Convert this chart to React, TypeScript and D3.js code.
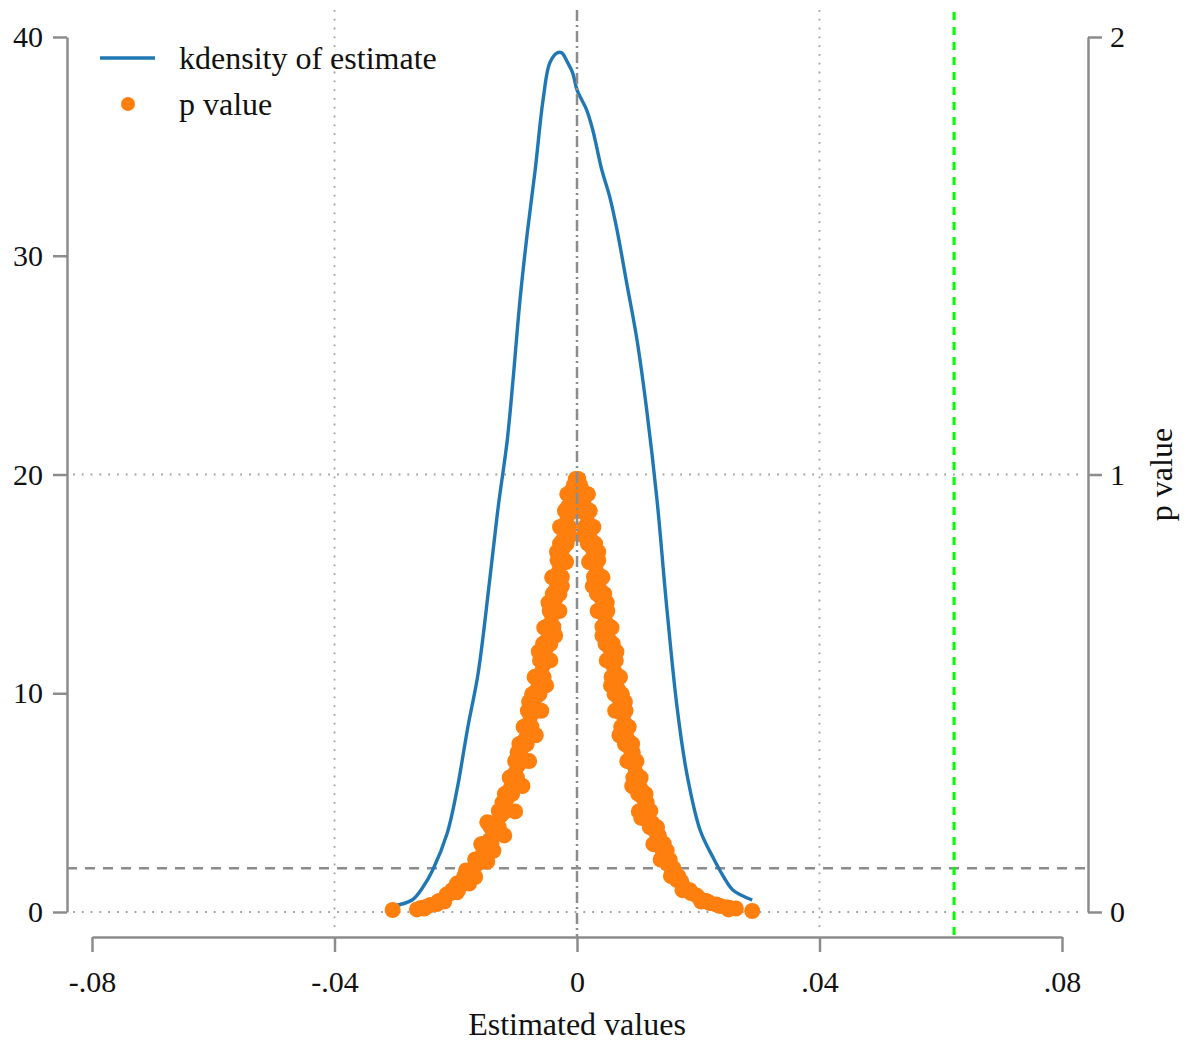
import React, { useEffect, useRef } from "react";
import * as d3 from "d3";

// axes
const xTicks = [-0.08, -0.04, 0, 0.04, 0.08];
const xTickLabels = ["-.08", "-.04", "0", ".04", ".08"];
const densityTicks = [0, 10, 20, 30, 40];
const pTicks = [0, 1, 2];

// kernel density of the placebo estimates
const kdEstimate = [
  -0.0304, -0.0272, -0.0254, -0.0238, -0.0214, -0.0198, -0.018, -0.0163, -0.0144, -0.013,
  -0.0115, -0.0106, -0.0094, -0.0082, -0.0069, -0.0056, -0.0045, -0.0033, -0.0025, -0.0016,
  -0.0007, 0.0, 0.0016, 0.0026, 0.0041, 0.0054, 0.0066, 0.0082, 0.0099, 0.0115,
  0.0132, 0.0148, 0.0165, 0.0181, 0.0203, 0.0224, 0.0242, 0.0257, 0.0289,
];
const kdDensity = [
  0.27, 0.55, 1.14, 1.92, 3.61, 5.58, 8.46, 10.93, 15.18, 18.51,
  21.58, 24.18, 27.98, 31.04, 33.92, 37.12, 38.81, 39.27, 39.27, 38.86,
  38.35, 37.58, 36.66, 35.75, 33.92, 32.69, 31.18, 28.75, 26.15, 22.95,
  18.83, 13.94, 9.37, 6.35, 3.75, 2.51, 1.6, 1.01, 0.55,
];

// p value of each placebo estimate: [estimate, p]
const pointsLeft = [
  [-0.0002, 0.9897], [-0.0005, 0.976], [0.0002, 0.976], [-0.0008, 0.9646], [-0.001, 0.9463],
  [-0.0015, 0.9257], [-0.0015, 0.9074], [-0.0018, 0.8891], [-0.002, 0.8709], [-0.0023, 0.8503],
  [-0.0023, 0.832], [-0.0026, 0.8137], [-0.0028, 0.7931], [-0.0031, 0.7749], [-0.0031, 0.7566],
  [-0.0035, 0.736], [-0.0035, 0.7177], [-0.0038, 0.6971], [-0.0041, 0.6789], [-0.0043, 0.6606],
  [-0.0046, 0.6423], [-0.0049, 0.6217], [-0.0051, 0.6034], [-0.0054, 0.5851], [-0.0056, 0.5646],
  [-0.0059, 0.5463], [-0.0063, 0.528], [-0.0066, 0.5074], [-0.0069, 0.4891], [-0.0073, 0.4686],
  [-0.0076, 0.4503], [-0.0079, 0.432], [-0.0082, 0.4137], [-0.0086, 0.3931], [-0.0091, 0.3749],
  [-0.0094, 0.3543], [-0.0097, 0.336], [-0.0102, 0.3177], [-0.0107, 0.2971], [-0.0111, 0.2789],
  [-0.0115, 0.2606], [-0.012, 0.24], [-0.0125, 0.2217], [-0.0132, 0.2034], [-0.0145, 0.2034],
  [-0.0137, 0.1851], [-0.0144, 0.1646], [-0.015, 0.1463], [-0.0157, 0.128], [-0.0165, 0.1097],
  [-0.0175, 0.0914], [-0.0185, 0.0731], [-0.0196, 0.0571], [-0.0208, 0.0434], [-0.0219, 0.0297],
  [-0.0231, 0.0183], [-0.0249, 0.0114], [-0.0257, 0.0091], [-0.0304, 0.0046],
];
const pointsLeftExtra = [
  [-0.0012, 0.9555], [-0.0004, 0.9166], [-0.0028, 0.88], [-0.0012, 0.86], [-0.0033, 0.823],
  [-0.0018, 0.8], [-0.0041, 0.765], [-0.0025, 0.745], [-0.0047, 0.707], [-0.0029, 0.688],
  [-0.0054, 0.65], [-0.0036, 0.632], [-0.0063, 0.595], [-0.0044, 0.575], [-0.007, 0.537],
  [-0.0051, 0.518], [-0.0079, 0.48], [-0.0059, 0.46], [-0.0088, 0.423], [-0.0068, 0.404],
  [-0.0098, 0.365], [-0.0079, 0.345], [-0.011, 0.308], [-0.009, 0.288], [-0.0123, 0.25],
  [-0.0102, 0.23], [-0.0148, 0.205], [-0.0143, 0.195], [-0.012, 0.175], [-0.0158, 0.155],
  [-0.0138, 0.14], [-0.0168, 0.12], [-0.0148, 0.115], [-0.0183, 0.095], [-0.0168, 0.08],
  [-0.0198, 0.065], [-0.0178, 0.065], [-0.0215, 0.04], [-0.0198, 0.045], [-0.0227, 0.025],
  [-0.0242, 0.016], [-0.0264, 0.006], [-0.0252, 0.008],
];
const pointsLeftMid = [
  [-0.0016, 0.955], [-0.002, 0.917], [-0.0024, 0.88], [-0.0028, 0.842], [-0.0032, 0.804],
  [-0.0036, 0.766], [-0.004, 0.727], [-0.0045, 0.688], [-0.005, 0.652], [-0.0056, 0.613],
  [-0.0061, 0.575], [-0.0067, 0.537], [-0.0074, 0.498], [-0.0081, 0.46], [-0.0087, 0.423],
  [-0.0095, 0.384], [-0.0102, 0.345], [-0.0111, 0.307], [-0.0119, 0.27], [-0.0129, 0.231],
  [-0.0141, 0.194], [-0.0153, 0.156], [-0.0167, 0.119], [-0.0186, 0.082], [-0.0206, 0.05],
  [-0.0229, 0.024],
  [-0.0008, 0.955], [-0.0009, 0.917], [-0.0013, 0.88], [-0.0017, 0.842], [-0.0021, 0.804],
  [-0.0025, 0.766], [-0.0029, 0.727], [-0.0034, 0.688], [-0.0039, 0.652], [-0.0044, 0.613],
  [-0.0049, 0.575], [-0.0055, 0.537], [-0.0062, 0.498], [-0.0069, 0.46], [-0.0075, 0.423],
  [-0.0083, 0.384], [-0.009, 0.345], [-0.0099, 0.307], [-0.0107, 0.27], [-0.0117, 0.231],
  [-0.0129, 0.194], [-0.0141, 0.156], [-0.0155, 0.119], [-0.0174, 0.082], [-0.0196, 0.05],
  [-0.0219, 0.024],
];
const pointsRight = [
  [0.0002, 0.9897], [0.0005, 0.976], [0.0008, 0.9646], [0.001, 0.9463], [0.0013, 0.9257],
  [0.0016, 0.9074], [0.0018, 0.8891], [0.002, 0.8709], [0.0023, 0.8503], [0.0025, 0.832],
  [0.0028, 0.8137], [0.003, 0.7931], [0.0033, 0.7749], [0.0035, 0.7566], [0.0038, 0.736],
  [0.004, 0.7177], [0.0043, 0.6971], [0.0045, 0.6789], [0.0048, 0.6606], [0.0049, 0.6423],
  [0.0053, 0.6217], [0.0054, 0.6034], [0.0058, 0.5851], [0.0059, 0.5646], [0.0063, 0.5463],
  [0.0064, 0.528], [0.0068, 0.5074], [0.0069, 0.4891], [0.0073, 0.4686], [0.0076, 0.4503],
  [0.0078, 0.432], [0.0081, 0.4137], [0.0084, 0.3931], [0.0087, 0.3749], [0.0091, 0.3543],
  [0.0094, 0.336], [0.0097, 0.3177], [0.0102, 0.2971], [0.0106, 0.2789], [0.0109, 0.2606],
  [0.0114, 0.24], [0.0117, 0.2217], [0.0124, 0.2034], [0.0129, 0.1851], [0.0134, 0.1646],
  [0.0139, 0.1463], [0.0144, 0.128], [0.015, 0.1097], [0.0157, 0.0914], [0.0165, 0.0731],
  [0.0175, 0.0571], [0.0188, 0.0434], [0.0203, 0.0297], [0.0219, 0.0206], [0.0236, 0.0137],
  [0.0252, 0.0091], [0.0289, 0.0023],
];
const pointsRightExtra = [
  [0.0012, 0.9555], [0.0004, 0.9166], [0.0027, 0.88], [0.0011, 0.86], [0.0035, 0.823],
  [0.002, 0.8], [0.0042, 0.765], [0.0026, 0.745], [0.0049, 0.707], [0.0034, 0.688],
  [0.0057, 0.65], [0.0042, 0.632], [0.0065, 0.595], [0.0049, 0.575], [0.0071, 0.537],
  [0.0056, 0.518], [0.0079, 0.48], [0.0063, 0.46], [0.0085, 0.423], [0.007, 0.404],
  [0.0092, 0.365], [0.0083, 0.345], [0.0103, 0.308], [0.0091, 0.288], [0.0115, 0.25],
  [0.0102, 0.23], [0.0106, 0.215], [0.0123, 0.195], [0.0135, 0.175], [0.0126, 0.155],
  [0.0148, 0.14], [0.0138, 0.12], [0.0159, 0.1], [0.0158, 0.085], [0.0172, 0.07],
  [0.0184, 0.05], [0.0197, 0.038], [0.0212, 0.025], [0.023, 0.017], [0.0246, 0.011],
  [0.0262, 0.008], [0.025, 0.006],
];
const pointsRightMid = [
  [0.0018, 0.955], [0.0021, 0.917], [0.0025, 0.88], [0.003, 0.842], [0.0035, 0.804],
  [0.004, 0.766], [0.0045, 0.727], [0.005, 0.688], [0.0054, 0.652], [0.0059, 0.613],
  [0.0064, 0.575], [0.0069, 0.537], [0.0074, 0.498], [0.008, 0.46], [0.0085, 0.423],
  [0.0091, 0.384], [0.0098, 0.345], [0.0105, 0.307], [0.0113, 0.27], [0.0121, 0.231],
  [0.0132, 0.194], [0.0143, 0.156], [0.0153, 0.119], [0.0167, 0.082], [0.0186, 0.05],
  [0.0215, 0.024],
  [0.0006, 0.955], [0.0009, 0.917], [0.0013, 0.88], [0.0018, 0.842], [0.0023, 0.804],
  [0.0028, 0.766], [0.0033, 0.727], [0.0038, 0.688], [0.0042, 0.652], [0.0047, 0.613],
  [0.0052, 0.575], [0.0057, 0.537], [0.0062, 0.498], [0.0068, 0.46], [0.0073, 0.423],
  [0.0079, 0.384], [0.0086, 0.345], [0.0093, 0.307], [0.0101, 0.27], [0.0109, 0.231],
  [0.012, 0.194], [0.0131, 0.156], [0.0141, 0.119], [0.0155, 0.082], [0.0174, 0.05],
  [0.0205, 0.024],
];

const trueEstimate = 0.0622;
const pCutoff = 0.1;

const W = 1194;
const H = 1041;
const FONT = "'Liberation Serif', 'Times New Roman', serif";
const GRAY = "#8c8c8c";
const BLUE = "#1f77b4";
const ORANGE = "#ff7f0e";

export default function App() {
  const svgRef = useRef<SVGSVGElement>(null);

  useEffect(() => {
    document.body.style.margin = "0";
    const svg = d3.select(svgRef.current);
    svg.selectAll("*").remove();

    const x = d3.scaleLinear().domain([-0.08, 0.08]).range([92, 1062]);
    const yD = d3.scaleLinear().domain([0, 40]).range([912, 37]);
    const yP = d3.scaleLinear().domain([0, 2]).range([912, 37]);

    const plotTop = yD(40) - 27;
    const leftX = 67;
    const rightX = 1088;
    const axisY = 937;

    // dotted grid
    const grid = svg.append("g").attr("stroke", "#a0a0a0").attr("stroke-width", 1.8)
      .attr("stroke-dasharray", "1.8,7");
    [-0.04, 0.04].forEach((v) => {
      grid.append("line").attr("x1", x(v)).attr("x2", x(v))
        .attr("y1", plotTop).attr("y2", yD(0) + 16);
    });
    [0, 20].forEach((v) => {
      grid.append("line").attr("x1", leftX + 6).attr("x2", rightX - 4)
        .attr("y1", yD(v)).attr("y2", yD(v));
    });

    // p = 0.1 cut-off
    svg.append("line")
      .attr("x1", leftX).attr("x2", rightX)
      .attr("y1", yP(pCutoff)).attr("y2", yP(pCutoff))
      .attr("stroke", GRAY).attr("stroke-width", 2.5).attr("stroke-dasharray", "10,8");

    // kdensity
    const line = d3.line<number>()
      .x((d, i) => x(kdEstimate[i]))
      .y((d) => yD(d))
      .curve(d3.curveCatmullRom);
    svg.append("path")
      .attr("d", line(kdDensity))
      .attr("fill", "none")
      .attr("stroke", BLUE)
      .attr("stroke-width", 3.4);

    // p value scatter
    const allPoints = [
      ...pointsLeft, ...pointsLeftExtra, ...pointsLeftMid,
      ...pointsRight, ...pointsRightExtra, ...pointsRightMid,
    ];
    svg.append("g")
      .selectAll("circle")
      .data(allPoints)
      .enter()
      .append("circle")
      .attr("cx", (d) => x(d[0]))
      .attr("cy", (d) => yP(d[1]))
      .attr("r", 8)
      .attr("fill", ORANGE);

    // zero line
    svg.append("line")
      .attr("x1", x(0)).attr("x2", x(0))
      .attr("y1", plotTop).attr("y2", axisY)
      .attr("stroke", GRAY).attr("stroke-width", 2.5).attr("stroke-dasharray", "11,4,2,4");

    // true estimate
    svg.append("line")
      .attr("x1", x(trueEstimate)).attr("x2", x(trueEstimate))
      .attr("y1", plotTop + 2).attr("y2", axisY)
      .attr("stroke", "#00ff00").attr("stroke-width", 3).attr("stroke-dasharray", "8,7");

    const styleAxis = (g) => {
      g.select(".domain").attr("stroke", GRAY).attr("stroke-width", 2.5);
      g.selectAll(".tick line").attr("stroke", GRAY).attr("stroke-width", 2.5);
      g.selectAll(".tick text").attr("fill", "#111").style("font-family", FONT).style("font-size", "30px");
    };

    svg.append("g")
      .attr("transform", `translate(${leftX},0)`)
      .call(d3.axisLeft(yD).tickValues(densityTicks).tickSize(14).tickSizeOuter(0).tickPadding(10))
      .call(styleAxis);

    svg.append("g")
      .attr("transform", `translate(${rightX},0)`)
      .call(d3.axisRight(yP).tickValues(pTicks).tickFormat(d3.format("d")).tickSize(14).tickSizeOuter(0).tickPadding(8))
      .call(styleAxis);

    svg.append("g")
      .attr("transform", `translate(0,${axisY})`)
      .call(d3.axisBottom(x).tickValues(xTicks).tickFormat((d, i) => xTickLabels[i]).tickSize(15).tickSizeOuter(0).tickPadding(19))
      .call(styleAxis);

    svg.append("text")
      .attr("x", x(0)).attr("y", 1035)
      .attr("text-anchor", "middle")
      .style("font-family", FONT).style("font-size", "32px").attr("fill", "#111")
      .text("Estimated values");

    svg.append("text")
      .attr("transform", `translate(1172,${yP(1)}) rotate(-90)`)
      .attr("text-anchor", "middle")
      .style("font-family", FONT).style("font-size", "32px").attr("fill", "#111")
      .text("p value");

    // legend
    const legend = svg.append("g");
    legend.append("line").attr("x1", 100).attr("x2", 155).attr("y1", 58).attr("y2", 58)
      .attr("stroke", BLUE).attr("stroke-width", 3.4);
    legend.append("text").attr("x", 179).attr("y", 69)
      .style("font-family", FONT).style("font-size", "32px").attr("fill", "#111")
      .text("kdensity of estimate");
    legend.append("circle").attr("cx", 128).attr("cy", 104).attr("r", 7).attr("fill", ORANGE);
    legend.append("text").attr("x", 179).attr("y", 115)
      .style("font-family", FONT).style("font-size", "32px").attr("fill", "#111")
      .text("p value");
  }, []);

  return (
    <svg ref={svgRef} width={W} height={H} style={{ display: "block", background: "#fff" }} />
  );
}
